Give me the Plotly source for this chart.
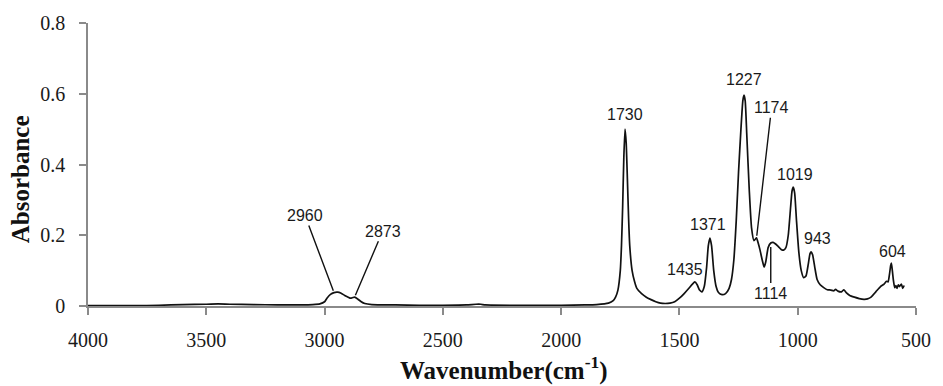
import numpy as np
import plotly.graph_objects as go

# FTIR absorbance spectrum (wavenumber in cm-1, absorbance)
wavenumber = [
    4000, 3800, 3700, 3600, 3500, 3450, 3400, 3300, 3200, 3100,
    3050, 3020, 3000, 2990, 2975, 2960, 2945, 2930, 2915, 2900,
    2890, 2880, 2873, 2860, 2845, 2830, 2800, 2700, 2600, 2500,
    2400, 2360, 2340, 2320, 2200, 2100, 2000, 1900, 1850, 1800,
    1780, 1770, 1760, 1750, 1745, 1740, 1735, 1730, 1725, 1720,
    1715, 1710, 1700, 1690, 1680, 1660, 1640, 1620, 1600, 1580,
    1560, 1540, 1520, 1500, 1480, 1460, 1445, 1435, 1425, 1415,
    1405, 1395, 1385, 1378, 1371, 1364, 1355, 1345, 1335, 1320,
    1305, 1290, 1280, 1270, 1260, 1250, 1240, 1232, 1227, 1222,
    1215, 1205, 1195, 1185, 1178, 1174, 1168, 1160, 1150, 1142,
    1135, 1125, 1114, 1104, 1095, 1085, 1070, 1060, 1050, 1040,
    1030, 1024, 1019, 1013, 1005, 995, 985, 975, 965, 955,
    948, 943, 937, 928, 918, 905, 890, 875, 860, 848,
    840, 830, 815, 805, 795, 780, 760, 740, 720, 705,
    690, 670, 650, 635, 625, 618, 612, 607, 604, 600,
    595, 590, 585, 580, 575, 570, 562, 556, 550,
]
absorbance = [
    0.001, 0.001, 0.002, 0.004, 0.005, 0.006, 0.005, 0.004, 0.003, 0.003,
    0.004, 0.006, 0.012, 0.022, 0.033, 0.038, 0.039, 0.036, 0.030, 0.025,
    0.022, 0.024, 0.025, 0.020, 0.012, 0.007, 0.004, 0.003, 0.002, 0.002,
    0.003, 0.005, 0.005, 0.003, 0.002, 0.002, 0.002, 0.003, 0.004, 0.008,
    0.015, 0.025, 0.045, 0.100, 0.170, 0.280, 0.420, 0.500, 0.460, 0.360,
    0.250, 0.170, 0.100, 0.070, 0.050, 0.035, 0.025, 0.018, 0.012, 0.008,
    0.007, 0.008, 0.012, 0.022, 0.035, 0.050, 0.062, 0.068, 0.060, 0.045,
    0.040, 0.055, 0.110, 0.170, 0.192, 0.170, 0.100, 0.055, 0.038, 0.032,
    0.035, 0.050, 0.075, 0.130, 0.240, 0.380, 0.500, 0.580, 0.596, 0.580,
    0.480, 0.330, 0.220, 0.185, 0.190, 0.193, 0.180, 0.160, 0.130, 0.110,
    0.125, 0.165, 0.178, 0.180, 0.176, 0.170, 0.160, 0.158, 0.165, 0.200,
    0.280, 0.325, 0.336, 0.320, 0.240, 0.150, 0.100, 0.080, 0.085, 0.120,
    0.148, 0.153, 0.145, 0.110, 0.075, 0.060, 0.052, 0.046, 0.045, 0.043,
    0.047, 0.042, 0.040, 0.046, 0.038, 0.030, 0.025, 0.021, 0.019, 0.020,
    0.025, 0.040, 0.055, 0.062, 0.070, 0.068, 0.090, 0.115, 0.121, 0.100,
    0.070, 0.052, 0.058, 0.050, 0.060, 0.055, 0.062, 0.050, 0.058,
]

# Peak assignments shown on the spectrum
peak_labels = ["2960", "2873", "1730", "1435", "1371", "1227",
               "1174", "1114", "1019", "943", "604"]

x_ticks = [4000, 3500, 3000, 2500, 2000, 1500, 1000, 500]
y_ticks = [0, 0.2, 0.4, 0.6, 0.8]
y_tick_text = ["0", "0.2", "0.4", "0.6", "0.8"]

# Label placement (pixel offsets from the peak point); leader lines where set
label_style = {
    "2960": dict(line=True, ax=-29, ay=-77),
    "2873": dict(line=True, ax=28, ay=-66),
    "1174": dict(line=True, ax=15, ay=-130),
    "1114": dict(line=True, ax=0, ay=50, below=True),
    "1730": dict(dx=0, dy=15),
    "1435": dict(dx=-10, dy=12),
    "1371": dict(dx=-2, dy=14),
    "1227": dict(dx=0, dy=16),
    "1019": dict(dx=2, dy=13),
    "943": dict(dx=6, dy=13),
    "604": dict(dx=1, dy=12),
}

wn = np.array(wavenumber, dtype=float)
ab = np.array(absorbance, dtype=float)

fig = go.Figure()
fig.add_trace(go.Scatter(
    x=wn, y=ab, mode="lines",
    line=dict(color="#111111", width=1.7, shape="spline", smoothing=0.5),
    hoverinfo="x+y", showlegend=False,
))

SERIF = "Liberation Serif"
label_font = dict(family="Liberation Sans", size=16, color="#1a1a1a")
annotations = []
order = np.argsort(wn)
for lab in peak_labels:
    xv = float(lab)
    yv = float(np.interp(xv, wn[order], ab[order]))
    st = label_style[lab]
    if st.get("line"):
        annotations.append(dict(
            x=xv, y=yv, xref="x", yref="y", text=lab,
            showarrow=True, arrowhead=0, arrowwidth=1.4, arrowcolor="#111111",
            ax=st["ax"], ay=st["ay"], standoff=4 if st.get("below") else 2,
            font=label_font,
        ))
    else:
        annotations.append(dict(
            x=xv, y=yv, xref="x", yref="y", text=lab, showarrow=False,
            xshift=st["dx"], yshift=st["dy"], xanchor="center", yanchor="middle",
            font=label_font,
        ))

title_font = dict(family=SERIF, size=25, color="#111111")
annotations.append(dict(
    text="<b>Absorbance</b>", xref="paper", yref="paper", x=0, y=0.448,
    xshift=-68, xanchor="center", yanchor="middle", textangle=-90,
    showarrow=False, font=title_font,
))
annotations.append(dict(
    text="<b>Wavenumber(cm<sup>-1</sup>)</b>", xref="paper", yref="paper",
    x=0.5, y=0, yshift=-62, xshift=2, xanchor="center", yanchor="middle",
    showarrow=False, font=title_font,
))

axis_common = dict(
    showgrid=False, zeroline=False, showline=True, linecolor="#8a8a8a", linewidth=1.5,
    ticks="outside", tickcolor="#8a8a8a", ticklen=7, tickwidth=1.5,
    tickfont=dict(family=SERIF, size=20, color="#1a1a1a"),
)

fig.update_layout(
    width=943, height=386,
    margin=dict(l=88, r=20, t=18, b=80),
    paper_bgcolor="white", plot_bgcolor="white",
    font=dict(family=SERIF),
    xaxis=dict(range=[4000, 500], tickvals=x_ticks, ticktext=[str(v) for v in x_ticks],
               ticklabelstandoff=8, **axis_common),
    yaxis=dict(range=[0, 0.8], tickvals=y_ticks, ticktext=y_tick_text,
               ticklabelstandoff=10, **axis_common),
    annotations=annotations,
)

fig.write_html("out.html")
